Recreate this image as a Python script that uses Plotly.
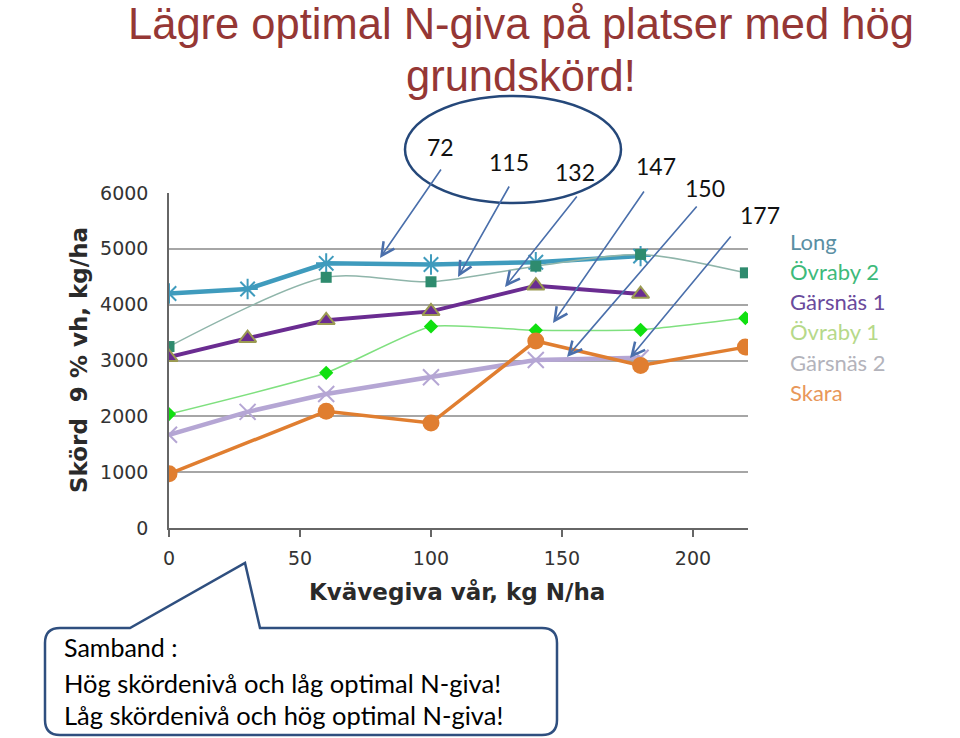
import plotly.graph_objects as go

# ---- data ----
n_long = [0, 30, 60, 100, 140, 180]
y_long = [4200, 4280, 4740, 4720, 4760, 4870]

n_ovr2 = [0, 60, 100, 140, 180, 220]
y_ovr2 = [3250, 4490, 4410, 4690, 4900, 4570]

n_gar1 = [0, 30, 60, 100, 140, 180]
y_gar1 = [3060, 3400, 3720, 3880, 4340, 4190]

n_ovr1 = [0, 60, 100, 140, 180, 220]
y_ovr1 = [2040, 2780, 3610, 3540, 3550, 3760]

n_gar2 = [0, 30, 60, 100, 140, 180]
y_gar2 = [1670, 2080, 2400, 2700, 3010, 3050]

n_skara = [0, 60, 100, 140, 180, 220]
y_skara = [970, 2090, 1880, 3350, 2910, 3240]

opt_labels = ["72", "115", "132", "147", "150", "177"]
x_ticks = [0, 50, 100, 150, 200]
y_ticks = [0, 1000, 2000, 3000, 4000, 5000, 6000]

series_names = ["Long", "Övraby 2", "Gärsnäs 1", "Övraby 1", "Gärsnäs 2", "Skara"]
legend_colors = ["#5a8fa3", "#3dba7a", "#6a4a9c", "#b6d98a", "#b3b3bb", "#e8975a"]

# ---- layout geometry (pixels) ----
L, R, T, B = 169, 748, 193, 528
W, H = R - L, B - T


def px(x):
    return (x - L) / W


def py(y):
    return (B - y) / H


fig = go.Figure()

fig.add_trace(go.Scatter(
    x=n_long, y=y_long, mode="lines+markers", name="Long",
    line=dict(color="#3f9bbd", width=4.5),
    marker=dict(symbol="asterisk-open", size=17, line=dict(color="#3f9bbd", width=2)),
))
fig.add_trace(go.Scatter(
    x=n_ovr2, y=y_ovr2, mode="lines+markers", name="Övraby 2",
    line=dict(color="#8fb5aa", width=1.5, shape="spline", smoothing=0.8),
    marker=dict(symbol="square", size=11, color="#2e8b6e"),
))
fig.add_trace(go.Scatter(
    x=n_gar1, y=y_gar1, mode="lines+markers", name="Gärsnäs 1",
    line=dict(color="#6a2c91", width=4),
    marker=dict(symbol="triangle-up", size=15, color="#6a2c91",
                line=dict(color="#9b9a52", width=2)),
))
fig.add_trace(go.Scatter(
    x=n_ovr1, y=y_ovr1, mode="lines+markers", name="Övraby 1",
    line=dict(color="#7fe07f", width=1.5, shape="spline", smoothing=0.5),
    marker=dict(symbol="diamond", size=11, color="#10e010"),
))
fig.add_trace(go.Scatter(
    x=n_gar2, y=y_gar2, mode="lines+markers", name="Gärsnäs 2",
    line=dict(color="#b5a6d4", width=4.5),
    marker=dict(symbol="x-thin-open", size=16, line=dict(color="#b5a6d4", width=2)),
))
fig.add_trace(go.Scatter(
    x=n_skara, y=y_skara, mode="lines+markers", name="Skara",
    line=dict(color="#e07e30", width=3.5),
    marker=dict(symbol="circle", size=17, color="#e07e30"),
))

ann = []
# Title
ann.append(dict(text="Lägre optimal N-giva på platser med hög", x=px(521), y=py(-2),
                xref="paper", yref="paper", showarrow=False, xanchor="center", yanchor="top",
                font=dict(family="Liberation Sans, Arial", size=43.5, color="#953735")))
ann.append(dict(text="grundskörd!", x=px(521), y=py(76),
                xref="paper", yref="paper", showarrow=False, xanchor="center", yanchor="middle",
                font=dict(family="Liberation Sans, Arial", size=43.5, color="#953735")))

# Axis titles
ann.append(dict(text="<b>Kvävegiva vår, kg N/ha</b>", x=px(457), y=py(592),
                xref="paper", yref="paper", showarrow=False, xanchor="center", yanchor="middle",
                font=dict(family="DejaVu Sans", size=23, color="#2a2a2a")))
ann.append(dict(text="<b>Skörd  9 % vh, kg/ha</b>", x=px(79), y=py(360), textangle=-90,
                xref="paper", yref="paper", showarrow=False, xanchor="center", yanchor="middle",
                font=dict(family="DejaVu Sans", size=23, color="#2a2a2a")))

# Legend text
leg_y = [241, 271, 301, 331, 362, 392]
for name, col, yy in zip(series_names, legend_colors, leg_y):
    ann.append(dict(text=name, x=px(788), y=py(yy), xref="paper", yref="paper",
                    showarrow=False, xanchor="left", yanchor="middle",
                    font=dict(family="Lato", size=22, color=col)))

# Optimal N labels
label_pos = [(440, 147), (509, 162), (575, 172), (656, 166), (705, 188), (760, 215)]
for t, (lx, ly) in zip(opt_labels, label_pos):
    ann.append(dict(text=t, x=px(lx), y=py(ly), xref="paper", yref="paper",
                    showarrow=False, xanchor="center", yanchor="middle",
                    font=dict(family="Lato", size=23, color="#111111")))

# Arrows (tail -> head)
arrows = [((442, 168), (380, 258)), ((510, 185), (458, 277)), ((578, 195), (505, 287)),
          ((645, 190), (553, 323)), ((698, 205), (567, 357)), ((732, 235), (630, 358))]
for (tx, ty), (hx, hy) in arrows:
    ann.append(dict(text="", x=px(hx), y=py(hy), xref="paper", yref="paper",
                    ax=tx - hx, ay=ty - hy, showarrow=True, arrowhead=5,
                    arrowsize=1.6, arrowwidth=1.6, arrowcolor="#4a6fab", standoff=0))

# Callout text
ann.append(dict(text="Samband :", x=px(62), y=py(647), xref="paper", yref="paper",
                showarrow=False, xanchor="left", yanchor="middle",
                font=dict(family="Lato", size=25, color="#000000")))
ann.append(dict(text="Hög skördenivå och låg optimal N-giva!", x=px(62), y=py(683),
                xref="paper", yref="paper", showarrow=False, xanchor="left", yanchor="middle",
                font=dict(family="Lato", size=25.5, color="#000000")))
ann.append(dict(text="Låg skördenivå och hög optimal N-giva!", x=px(62), y=py(715),
                xref="paper", yref="paper", showarrow=False, xanchor="left", yanchor="middle",
                font=dict(family="Lato", size=25.5, color="#000000")))

# Shapes
shapes = []
shapes.append(dict(type="circle", xref="paper", yref="paper",
                   x0=px(405), x1=px(621), y0=py(203), y1=py(96),
                   line=dict(color="#25487a", width=2.5)))

r = 15
bx0, by0, bx1, by1 = 45, 628, 557, 735


def P(x, y):
    return f"{px(x):.5f},{py(y):.5f}"


path = (f"M {P(bx0 + r, by0)} L {P(130, by0)} L {P(245, 563)} L {P(260, by0)} "
        f"L {P(bx1 - r, by0)} Q {P(bx1, by0)} {P(bx1, by0 + r)} "
        f"L {P(bx1, by1 - r)} Q {P(bx1, by1)} {P(bx1 - r, by1)} "
        f"L {P(bx0 + r, by1)} Q {P(bx0, by1)} {P(bx0, by1 - r)} "
        f"L {P(bx0, by0 + r)} Q {P(bx0, by0)} {P(bx0 + r, by0)} Z")
shapes.append(dict(type="path", xref="paper", yref="paper", path=path,
                   fillcolor="white", line=dict(color="#2f4f7f", width=2.5), layer="below"))

fig.update_layout(
    width=960, height=738,
    margin=dict(l=L, r=960 - R, t=T, b=738 - B),
    paper_bgcolor="white", plot_bgcolor="white",
    showlegend=False,
    annotations=ann, shapes=shapes,
    xaxis=dict(range=[0, 221], tickvals=x_ticks, showgrid=False, zeroline=False,
               showline=True, linecolor="#666666", linewidth=1.5,
               ticks="outside", ticklen=7, tickcolor="#666666", tickwidth=1.5,
               ticklabelstandoff=5,
               tickfont=dict(family="DejaVu Sans", size=19, color="#333333")),
    yaxis=dict(range=[0, 6000], tickvals=y_ticks, showgrid=True, gridcolor="#a6a6a6",
               gridwidth=1.5, zeroline=False,
               showline=True, linecolor="#666666", linewidth=1.5,
               ticks="", ticklabelstandoff=15,
               tickfont=dict(family="DejaVu Sans", size=19, color="#333333")),
)

fig.write_html("out.html", config={"displayModeBar": False})

# remove default page margin so the figure sits at the window origin
with open("out.html", "r", encoding="utf-8") as f:
    html = f.read()
html = html.replace("<head>", "<head><style>html,body{margin:0;padding:0;overflow:hidden;}</style>", 1)
with open("out.html", "w", encoding="utf-8") as f:
    f.write(html)
